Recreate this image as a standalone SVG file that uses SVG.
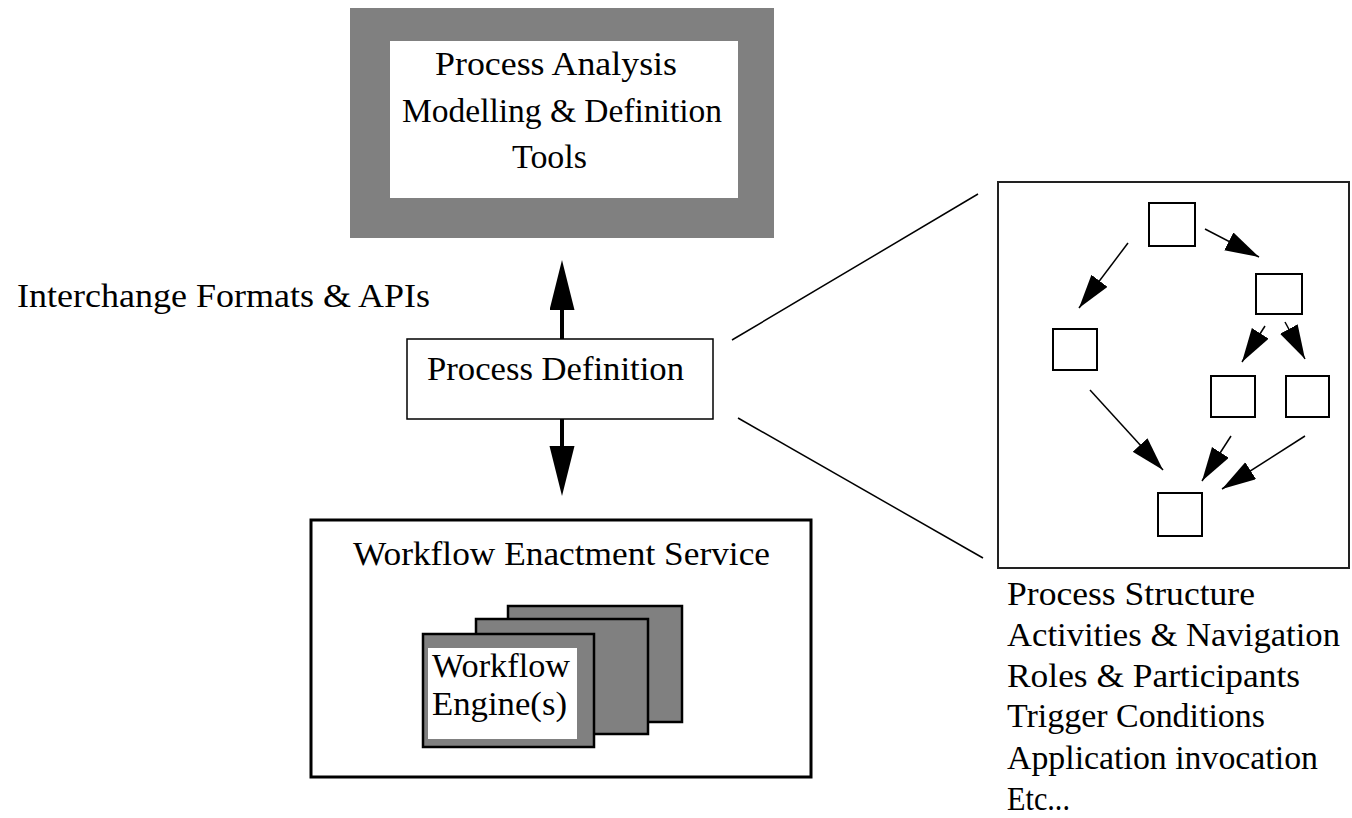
<svg xmlns="http://www.w3.org/2000/svg" width="1352" height="818" viewBox="0 0 1352 818">
<style>
text{font-family:"Liberation Serif","Times New Roman",serif;font-size:34px;fill:#000}
.box{fill:#fff;stroke:#000;stroke-width:1.5}
.small{fill:#fff;stroke:#000;stroke-width:2}
.gray{fill:#808080;stroke:#000;stroke-width:2.5}
.conn{stroke:#000;stroke-width:1.5;fill:none}
.big{stroke:#000;stroke-width:4;fill:none}
</style>
<defs>
<marker id="bighead" markerUnits="userSpaceOnUse" markerWidth="52" markerHeight="26" refX="0" refY="12.5" orient="auto">
<path d="M0,0 L50,12.5 L0,25 z" fill="#000"/>
</marker>
<marker id="head" markerUnits="userSpaceOnUse" markerWidth="36" markerHeight="22" refX="34" refY="10" orient="auto">
<path d="M0,0 L34,10 L0,20 z" fill="#000"/>
</marker>
</defs>
<rect width="1352" height="818" fill="#fff"/>

<g id="tools">
<rect x="350" y="8" width="424" height="230" fill="#808080"/>
<rect x="390" y="41" width="348" height="157" fill="#fff"/>
<text x="435" y="75" textLength="242" lengthAdjust="spacingAndGlyphs">Process Analysis</text>
<text x="402" y="122" textLength="320" lengthAdjust="spacingAndGlyphs">Modelling &amp; Definition</text>
<text x="512" y="168" textLength="75" lengthAdjust="spacingAndGlyphs">Tools</text>
</g>

<g id="interchange-label">
<text x="17" y="307" textLength="413" lengthAdjust="spacingAndGlyphs">Interchange Formats &amp; APIs</text>
</g>

<g id="process-definition">
<rect class="box" x="407" y="339" width="306" height="80"/>
<text x="427" y="380" textLength="257" lengthAdjust="spacingAndGlyphs">Process Definition</text>
</g>

<g id="enactment-service">
<rect x="311" y="520" width="500" height="257" fill="#fff" stroke="#000" stroke-width="3"/>
<text x="353" y="565" textLength="417" lengthAdjust="spacingAndGlyphs">Workflow Enactment Service</text>
</g>

<g id="engines">
<rect class="gray" x="508" y="606" width="174" height="116"/>
<rect class="gray" x="476" y="619" width="172" height="115"/>
<rect class="gray" x="423" y="634" width="171" height="113"/>
<rect x="428" y="648" width="149" height="91" fill="#fff"/>
<text x="432" y="677" textLength="138" lengthAdjust="spacingAndGlyphs">Workflow</text>
<text x="432" y="715" textLength="135" lengthAdjust="spacingAndGlyphs">Engine(s)</text>
</g>

<g id="structure-panel">
<rect x="998" y="182" width="351" height="386" fill="#fff" stroke="#222" stroke-width="2"/>
<rect class="small" x="1149" y="203" width="46" height="43"/>
<rect class="small" x="1256" y="274" width="46" height="40"/>
<rect class="small" x="1053" y="329" width="44" height="41"/>
<rect class="small" x="1211" y="376" width="44" height="41"/>
<rect class="small" x="1286" y="376" width="43" height="41"/>
<rect class="small" x="1158" y="493" width="44" height="43"/>
</g>

<g id="structure-list">
<text x="1007" y="605" textLength="248" lengthAdjust="spacingAndGlyphs">Process Structure</text>
<text x="1007" y="646" textLength="333" lengthAdjust="spacingAndGlyphs">Activities &amp; Navigation</text>
<text x="1007" y="687" textLength="293" lengthAdjust="spacingAndGlyphs">Roles &amp; Participants</text>
<text x="1007" y="727" textLength="258" lengthAdjust="spacingAndGlyphs">Trigger Conditions</text>
<text x="1007" y="769" textLength="311" lengthAdjust="spacingAndGlyphs">Application invocation</text>
<text x="1007" y="810" textLength="63" lengthAdjust="spacingAndGlyphs">Etc...</text>
</g>

<g id="connectors">
<line class="big" x1="562" y1="339" x2="562" y2="310" marker-end="url(#bighead)"/>
<line class="big" x1="562" y1="419" x2="562" y2="446" marker-end="url(#bighead)"/>
<line class="conn" x1="732" y1="340" x2="978" y2="194"/>
<line class="conn" x1="738" y1="418" x2="983" y2="558"/>
<line class="conn" x1="1128" y1="243" x2="1079" y2="308" marker-end="url(#head)"/>
<line class="conn" x1="1205" y1="229" x2="1259" y2="257" marker-end="url(#head)"/>
<line class="conn" x1="1265" y1="326" x2="1242" y2="362" marker-end="url(#head)"/>
<line class="conn" x1="1285" y1="322" x2="1305" y2="359" marker-end="url(#head)"/>
<line class="conn" x1="1090" y1="390" x2="1163" y2="470" marker-end="url(#head)"/>
<line class="conn" x1="1231" y1="436" x2="1202" y2="481" marker-end="url(#head)"/>
<line class="conn" x1="1305" y1="436" x2="1222" y2="489" marker-end="url(#head)"/>
</g>
</svg>
